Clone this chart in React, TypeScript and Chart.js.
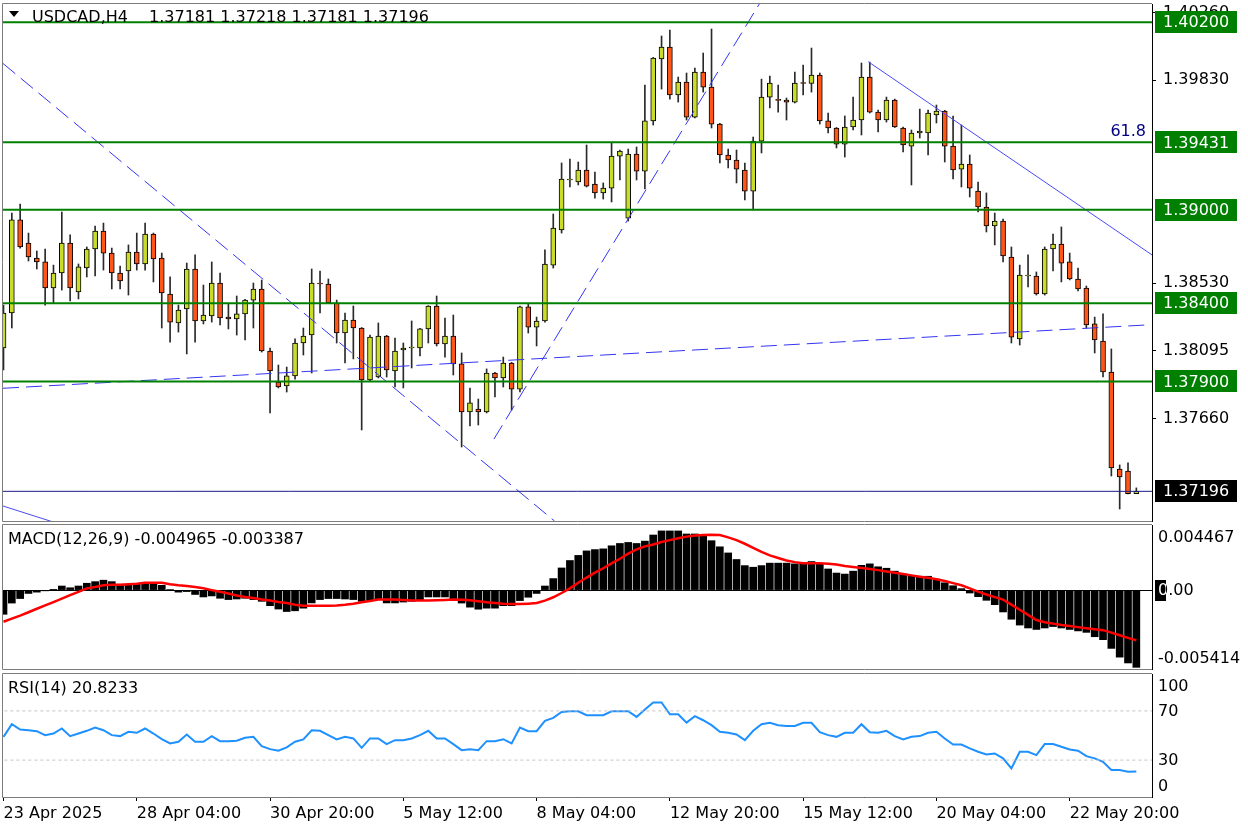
import React, { useEffect, useRef } from "react";
import { Chart, registerables } from "chart.js";

Chart.register(...registerables);

const FONT = "'DejaVu Sans', Verdana, sans-serif";

const symbolTitle = "USDCAD,H4";
const quoteTitle = "1.37181 1.37218 1.37181 1.37196";
const macdTitle = "MACD(12,26,9) -0.004965 -0.003387";
const rsiTitle = "RSI(14) 20.8233";

const opens = [
  1.38114, 1.38338, 1.38934, 1.38786, 1.38690, 1.38665, 1.38498, 1.38594, 1.38786, 1.38473,
  1.38626, 1.38748, 1.38863, 1.38722, 1.38594, 1.38607, 1.38729, 1.38652, 1.38844, 1.38690,
  1.38460, 1.38274, 1.38364, 1.38620, 1.38287, 1.38319, 1.38530, 1.38312, 1.38300, 1.38332,
  1.38421, 1.38492, 1.38095, 1.37896, 1.37871, 1.37935, 1.38146, 1.38197, 1.38530, 1.38524,
  1.38402, 1.38210, 1.38293, 1.38242, 1.37909, 1.37928, 1.38191, 1.37967, 1.38101, 1.38114,
  1.38114, 1.38236, 1.38383, 1.38140, 1.38191, 1.38012, 1.37704, 1.37723, 1.37704, 1.37954,
  1.37922, 1.38018, 1.37851, 1.38377, 1.38248, 1.38287, 1.38645, 1.38870, 1.39190, 1.39177,
  1.39254, 1.39164, 1.39107, 1.39138, 1.39343, 1.38946, 1.39356, 1.39247, 1.39568, 1.39965,
  1.40041, 1.39734, 1.39817, 1.39593, 1.39881, 1.39785, 1.39548, 1.39350, 1.39318, 1.39254,
  1.39119, 1.39439, 1.39721, 1.39705, 1.39702, 1.39689, 1.39811, 1.39808, 1.39862, 1.39568,
  1.39523, 1.39420, 1.39529, 1.39574, 1.39849, 1.39625, 1.39574, 1.39702, 1.39523, 1.39407,
  1.39491, 1.39491, 1.39606, 1.39632, 1.39407, 1.39260, 1.39292, 1.39119, 1.39017, 1.38895,
  1.38927, 1.38697, 1.38172, 1.38575, 1.38575, 1.38460, 1.38748, 1.38780, 1.38665, 1.38556,
  1.38498, 1.38268, 1.38159, 1.37960, 1.37339, 1.37326, 1.37181,
];
const highs = [
  1.38389, 1.38978, 1.39036, 1.38850, 1.38735, 1.38748, 1.38645, 1.38985, 1.38838, 1.38652,
  1.38761, 1.38895, 1.38914, 1.38754, 1.38639, 1.38774, 1.38850, 1.38914, 1.38850, 1.38722,
  1.38569, 1.38389, 1.38658, 1.38710, 1.38517, 1.38665, 1.38594, 1.38396, 1.38447, 1.38425,
  1.38530, 1.38549, 1.38114, 1.38005, 1.37992, 1.38172, 1.38242, 1.38620, 1.38607, 1.38556,
  1.38421, 1.38338, 1.38383, 1.38245, 1.38197, 1.38274, 1.38195, 1.38178, 1.38146, 1.38287,
  1.38240, 1.38385, 1.38447, 1.38306, 1.38325, 1.38082, 1.37858, 1.37787, 1.37980, 1.37958,
  1.38056, 1.38022, 1.38383, 1.38396, 1.38312, 1.38742, 1.38972, 1.39299, 1.39324, 1.39305,
  1.39414, 1.39241, 1.39171, 1.39427, 1.39382, 1.39388, 1.39401, 1.39798, 1.39975, 1.40112,
  1.40150, 1.39849, 1.39875, 1.39907, 1.40003, 1.40157, 1.39552, 1.39388, 1.39382, 1.39299,
  1.39465, 1.39836, 1.39856, 1.39798, 1.39715, 1.39881, 1.39926, 1.40035, 1.39875, 1.39619,
  1.39526, 1.39600, 1.39721, 1.39939, 1.39945, 1.39638, 1.39721, 1.39708, 1.39529, 1.39510,
  1.39644, 1.39638, 1.39670, 1.39636, 1.39600, 1.39542, 1.39350, 1.39177, 1.39107, 1.38978,
  1.38940, 1.38761, 1.38645, 1.38710, 1.38601, 1.38761, 1.38844, 1.38889, 1.38722, 1.38626,
  1.38511, 1.38312, 1.38332, 1.38108, 1.37365, 1.37378, 1.37218,
];
const lows = [
  1.37973, 1.38242, 1.38754, 1.38671, 1.38620, 1.38389, 1.38402, 1.38485, 1.38415, 1.38428,
  1.38569, 1.38575, 1.38613, 1.38492, 1.38492, 1.38453, 1.38613, 1.38613, 1.38537, 1.38242,
  1.38152, 1.38216, 1.38076, 1.38152, 1.38268, 1.38280, 1.38261, 1.38236, 1.38197, 1.38165,
  1.38242, 1.38088, 1.37698, 1.37858, 1.37832, 1.37915, 1.38069, 1.37954, 1.38338, 1.38400,
  1.38146, 1.38018, 1.38044, 1.37589, 1.37905, 1.37922, 1.37928, 1.37864, 1.37858, 1.37986,
  1.38063, 1.38146, 1.38127, 1.38056, 1.37941, 1.37480, 1.37615, 1.37621, 1.37698, 1.37800,
  1.37864, 1.37717, 1.37832, 1.38210, 1.38127, 1.38280, 1.38626, 1.38850, 1.39145, 1.39158,
  1.39145, 1.39074, 1.39068, 1.39049, 1.39190, 1.38927, 1.39190, 1.39132, 1.39542, 1.39772,
  1.39708, 1.39689, 1.39574, 1.39587, 1.39753, 1.39523, 1.39299, 1.39267, 1.39171, 1.39062,
  1.38998, 1.39363, 1.39651, 1.39625, 1.39574, 1.39683, 1.39734, 1.39753, 1.39548, 1.39491,
  1.39395, 1.39337, 1.39510, 1.39478, 1.39619, 1.39497, 1.39561, 1.39526, 1.39369, 1.39158,
  1.39459, 1.39350, 1.39555, 1.39305, 1.39196, 1.39145, 1.39081, 1.38985, 1.38857, 1.38774,
  1.38665, 1.38146, 1.38133, 1.38505, 1.38453, 1.38453, 1.38607, 1.38537, 1.38550, 1.38479,
  1.38242, 1.38082, 1.37928, 1.37294, 1.37083, 1.37179, 1.37181,
];
const closes = [
  1.38338, 1.38934, 1.38761, 1.38697, 1.38665, 1.38498, 1.38594, 1.38786, 1.38498, 1.38633,
  1.38748, 1.38863, 1.38722, 1.38594, 1.38543, 1.38729, 1.38652, 1.38844, 1.38684, 1.38466,
  1.38280, 1.38357, 1.38620, 1.38287, 1.38325, 1.38530, 1.38306, 1.38300, 1.38332, 1.38421,
  1.38492, 1.38095, 1.37967, 1.37864, 1.37935, 1.38146, 1.38191, 1.38530, 1.38524, 1.38405,
  1.38210, 1.38293, 1.38242, 1.37909, 1.38184, 1.38191, 1.37973, 1.38095, 1.38114, 1.38114,
  1.38236, 1.38383, 1.38140, 1.38191, 1.38012, 1.37704, 1.37762, 1.37704, 1.37954, 1.37922,
  1.38018, 1.37851, 1.38377, 1.38248, 1.38287, 1.38652, 1.38882, 1.39196, 1.39190, 1.39254,
  1.39151, 1.39107, 1.39138, 1.39343, 1.39375, 1.39356, 1.39247, 1.39568, 1.39971, 1.40041,
  1.39734, 1.39817, 1.39593, 1.39881, 1.39785, 1.39548, 1.39350, 1.39318, 1.39260, 1.39119,
  1.39439, 1.39721, 1.39811, 1.39700, 1.39689, 1.39811, 1.39808, 1.39862, 1.39568, 1.39523,
  1.39420, 1.39529, 1.39574, 1.39849, 1.39625, 1.39574, 1.39702, 1.39529, 1.39414, 1.39491,
  1.39503, 1.39619, 1.39632, 1.39407, 1.39254, 1.39292, 1.39138, 1.39017, 1.38895, 1.38927,
  1.38703, 1.38184, 1.38581, 1.38575, 1.38460, 1.38748, 1.38780, 1.38658, 1.38556, 1.38492,
  1.38261, 1.38165, 1.37960, 1.37346, 1.37288, 1.37181, 1.37196,
];

const macdMain = [
  -0.00166, -0.00089, -0.00058, -0.00023, -0.00014, -0.00005, 0.00005, 0.00028, 0.00016, 0.00028,
  0.00047, 0.00058, 0.00068, 0.00058, 0.0004, 0.00035, 0.0004, 0.00051, 0.0004, 0.00033,
  0.00002, -0.00014, -0.0001, -0.0003, -0.00047, -0.0004, -0.00056, -0.00065, -0.00061, -0.00056,
  -0.00065, -0.00077, -0.00107, -0.0013, -0.00147, -0.00142, -0.00124, -0.00088, -0.00065, -0.00058,
  -0.00058, -0.00061, -0.00065, -0.00077, -0.00072, -0.00065, -0.00088, -0.00088, -0.00082, -0.00077,
  -0.00065, -0.00047, -0.00047, -0.00047, -0.00065, -0.00089, -0.00117, -0.00131, -0.00124, -0.00124,
  -0.00107, -0.00107, -0.00072, -0.00049, -0.00023, 0.00028, 0.00079, 0.00152, 0.00203, 0.00238,
  0.00269, 0.00278, 0.00283, 0.00304, 0.0032, 0.00327, 0.0032, 0.00336, 0.00378, 0.00406,
  0.00406, 0.00406, 0.00385, 0.00385, 0.00371, 0.00339, 0.00297, 0.00255, 0.0021, 0.00168,
  0.00157, 0.00168, 0.00185, 0.00185, 0.00185, 0.0018, 0.0018, 0.00196, 0.0018, 0.00145,
  0.00117, 0.0011, 0.0013, 0.0017, 0.0018, 0.0016, 0.0015, 0.0013, 0.0011, 0.00095,
  0.0009, 0.00095, 0.00075, 0.0005, 0.0003, 0.0001, -0.0002, -0.00045, -0.0007, -0.001,
  -0.0015, -0.002, -0.0024, -0.0026, -0.0027, -0.0026, -0.0025, -0.0026, -0.0027, -0.0028,
  -0.0029, -0.0032, -0.0034, -0.004, -0.0046, -0.005, -0.0053,
];
const macdSignal = [
  -0.00217, -0.00196, -0.00175, -0.00152, -0.00128, -0.00105, -0.00082, -0.00058, -0.00035, -0.00012,
  0.00012, 0.00021, 0.00033, 0.00037, 0.00037, 0.0004, 0.00044, 0.00051, 0.00051, 0.00051,
  0.0004, 0.00033, 0.00028, 0.00021, 0.00012, 0, -0.00012, -0.00023, -0.00037, -0.00047,
  -0.00054, -0.00065, -0.00072, -0.00082, -0.00089, -0.001, -0.00107, -0.00107, -0.00107, -0.00107,
  -0.00105, -0.001, -0.00093, -0.00084, -0.00075, -0.00065, -0.00065, -0.00065, -0.00068, -0.00072,
  -0.00072, -0.00071, -0.0007, -0.00068, -0.00065, -0.00067, -0.0007, -0.00077, -0.00084, -0.00089,
  -0.00093, -0.00095, -0.00096, -0.00093, -0.00089, -0.00072, -0.00049, -0.0002, 0.00012, 0.0005,
  0.00086, 0.0012, 0.0015, 0.00183, 0.00215, 0.0025, 0.0028, 0.003, 0.00313, 0.0033,
  0.00343, 0.00356, 0.00367, 0.00374, 0.00378, 0.0038, 0.00378, 0.00362, 0.00343, 0.00318,
  0.0029, 0.00262, 0.00238, 0.0022, 0.00203, 0.00192, 0.00185, 0.00185, 0.00185, 0.0018,
  0.00175, 0.00165, 0.00159, 0.00152, 0.00145, 0.00137, 0.00128, 0.00119, 0.0011, 0.00101,
  0.00092, 0.00084, 0.00075, 0.00062, 0.00048, 0.00033, 0.00012, -0.0001, -0.0003, -0.00048,
  -0.00065, -0.001, -0.00135, -0.0017, -0.00205, -0.0022, -0.0023, -0.0024, -0.00247, -0.00254,
  -0.00261, -0.00268, -0.00275, -0.00292, -0.0031, -0.00328, -0.00345,
];
const rsiValues = [
  48.9, 59.2, 54.9, 54.3, 53.5, 50.3, 51.6, 55.7, 49.5, 51.6,
  53.8, 56.5, 54.3, 50.3, 49.5, 53.0, 52.2, 55.7, 51.6, 47.0,
  43.5, 44.9, 50.8, 44.9, 44.9, 49.5, 45.4, 45.4, 45.7, 48.1,
  48.9, 41.4, 38.9, 37.6, 40.3, 44.9, 46.8, 54.3, 53.8, 50.3,
  46.8, 48.9, 47.6, 40.0, 47.6, 47.6, 43.0, 46.2, 46.2, 47.6,
  50.3, 53.8, 47.6, 47.6, 43.0, 38.1, 38.9, 38.1, 45.4, 45.4,
  47.0, 43.5, 56.5, 53.5, 53.5, 61.9, 64.3, 69.2, 69.7, 69.7,
  66.5, 66.5, 66.5, 69.7, 69.7, 69.7, 65.1, 71.1, 76.8, 76.8,
  67.3, 67.3, 60.5, 65.7, 62.4, 58.4, 53.0, 52.2, 50.8, 46.2,
  53.8, 59.2, 60.3, 58.4, 57.8, 57.8, 60.3, 60.3, 52.7, 50.3,
  48.9, 52.2, 52.2, 59.2, 52.7, 52.2, 53.8, 49.5, 46.8, 48.9,
  49.5, 52.2, 53.0, 47.6, 42.7, 42.7, 39.5, 36.8, 34.6, 35.4,
  31.4, 23.2, 36.8, 36.8, 34.1, 43.0, 43.0, 40.8, 38.6, 37.6,
  33.2, 31.4, 28.6, 21.9, 21.9, 20.5, 20.8,
];

const timeLabels = [
  "23 Apr 2025", "28 Apr 04:00", "30 Apr 20:00", "5 May 12:00", "8 May 04:00",
  "12 May 20:00", "15 May 12:00", "20 May 04:00", "22 May 20:00",
];
const timeTickIndex = [0, 16, 32, 48, 64, 80, 96, 112, 128];

const priceTicks = [1.3766, 1.38095, 1.3853, 1.3983, 1.4026];
const levelPrices = [1.402, 1.39431, 1.39, 1.384, 1.379];
const lastPrice = 1.37196;
const fibLevel = 1.39431;
const fibLabel = "61.8";

const macdTicks = [-0.005414, 0, 0.004467];
const rsiTicks = [0, 30, 70, 100];
const rsiLevels = [30, 70];

// trend lines: [startIndex, startPrice, endIndex, endPrice]
const dashedLines = [
  [-0.06, 1.39936, 66.15, 1.37006],
  [58.88, 1.37531, 91.5, 1.40384],
  [-0.06, 1.37856, 137.04, 1.38261],
];
const solidLines = [
  [103.82, 1.39947, 137.88, 1.3871],
  [-0.06, 1.37102, 8, 1.36965],
];

const X_MIN = -0.06;
const X_MAX = 137.88;
const PRICE_MIN = 1.37006;
const PRICE_MAX = 1.40317;
const MACD_MIN = -0.005414;
const MACD_MAX = 0.004467;

const BULL = "#c9dc2a";
const BEAR = "#ff5516";
const FRAME = "#7c7c7c";
const W = 1248;

const idx = opens.map((_, i) => i);

function frame(ctx: CanvasRenderingContext2D, a: any) {
  ctx.strokeStyle = FRAME;
  ctx.lineWidth = 1;
  ctx.beginPath();
  ctx.moveTo(a.left - 0.5, a.bottom + 0.5);
  ctx.lineTo(a.left - 0.5, a.top - 0.5);
  ctx.lineTo(a.right, a.top - 0.5);
  ctx.moveTo(a.left - 0.5, a.bottom + 0.5);
  ctx.lineTo(a.right, a.bottom + 0.5);
  ctx.stroke();
}

const mainOverlay = {
  id: "mainOverlay",
  afterDraw(chart: any) {
    const { ctx, chartArea: a, scales } = chart;
    const ys = scales.y;
    ctx.save();
    frame(ctx, a);
    ctx.font = `16px ${FONT}`;
    ctx.fillStyle = "#000";
    ctx.textAlign = "left";
    ctx.textBaseline = "alphabetic";
    ctx.beginPath();
    ctx.moveTo(9, 11);
    ctx.lineTo(19, 11);
    ctx.lineTo(14, 17);
    ctx.closePath();
    ctx.fill();
    ctx.fillText(symbolTitle, 32, 22);
    ctx.fillText(quoteTitle, 149, 22);
    ctx.fillStyle = "#000080";
    ctx.textAlign = "right";
    ctx.fillText(fibLabel, 1146, ys.getPixelForValue(fibLevel) - 6);
    ctx.textAlign = "left";
    ctx.textBaseline = "middle";
    const boxes = levelPrices.map((p) => [p, "#008000"]).concat([[lastPrice, "#000000"]]);
    boxes.forEach(([p, col]: any) => {
      const y = ys.getPixelForValue(p);
      ctx.fillStyle = col;
      ctx.fillRect(1155, Math.round(y) - 11, 82, 22);
      ctx.fillStyle = "#ffffff";
      ctx.fillText(p.toFixed(5), 1163, y + 1);
    });
    ctx.restore();
  },
};

function panelOverlay(title: string, values: number[], fmt: (v: number) => string, zeroMarker: boolean) {
  return {
    id: "panelOverlay",
    afterDraw(chart: any) {
      const { ctx, chartArea: a, scales } = chart;
      const ys = scales.y;
      ctx.save();
      frame(ctx, a);
      ctx.font = `16px ${FONT}`;
      ctx.fillStyle = "#000";
      ctx.textAlign = "left";
      ctx.textBaseline = "middle";
      ctx.fillText(title, 8, a.top + 15);
      values.forEach((v) => {
        let y = ys.getPixelForValue(v);
        y = Math.max(a.top + 12, Math.min(a.bottom - 11, y));
        const txt = fmt(v);
        if (zeroMarker && v === 0) {
          ctx.fillStyle = "#000";
          ctx.fillRect(1155, Math.round(y) - 10, 11, 21);
          ctx.fillText(txt, 1158, y + 1);
          ctx.save();
          ctx.beginPath();
          ctx.rect(1155, Math.round(y) - 10, 11, 21);
          ctx.clip();
          ctx.fillStyle = "#fff";
          ctx.fillText(txt, 1158, y + 1);
          ctx.restore();
        } else {
          ctx.fillStyle = "#000";
          ctx.fillText(txt, 1158, y + 1);
        }
      });
      ctx.restore();
    },
  };
}

function hLine(v: number, color: string, width: number, dash: number[] = []) {
  return {
    type: "line",
    data: [
      { x: X_MIN - 2, y: v },
      { x: X_MAX + 2, y: v },
    ],
    borderColor: color,
    borderWidth: width,
    borderDash: dash,
    pointRadius: 0,
    fill: false,
    tension: 0,
    order: 0,
  };
}

function segLine(s: number[], color: string, dash: number[]) {
  return {
    type: "line",
    data: [
      { x: s[0], y: s[1] },
      { x: s[2], y: s[3] },
    ],
    borderColor: color,
    borderWidth: 1,
    borderDash: dash,
    pointRadius: 0,
    fill: false,
    tension: 0,
    order: 0,
  };
}

const baseX = {
  type: "linear",
  min: X_MIN,
  max: X_MAX,
  display: false,
  offset: false,
};

function fixRightAxis(s: any) {
  s.width = W - 1152;
  s.paddingTop = 0;
  s.paddingBottom = 0;
  s.paddingLeft = 0;
  s.paddingRight = 0;
}

export default function App() {
  const mainRef = useRef<HTMLCanvasElement>(null);
  const macdRef = useRef<HTMLCanvasElement>(null);
  const rsiRef = useRef<HTMLCanvasElement>(null);

  useEffect(() => {
    Chart.defaults.font.family = FONT;
    Chart.defaults.font.size = 16;
    Chart.defaults.color = "#000";

    const main = new Chart(mainRef.current as HTMLCanvasElement, {
      type: "bar",
      data: {
        datasets: [
          ...levelPrices.map((p) => hLine(p, "#008000", 2)),
          hLine(lastPrice, "#1c1c8c", 1),
          ...dashedLines.map((s) => segLine(s, "#3434f4", [16, 7])),
          ...solidLines.map((s) => segLine(s, "#4a4af8", [])),
          {
            type: "bar",
            data: idx.map((i) => ({ x: i, y: [opens[i], closes[i]] })),
            backgroundColor: idx.map((i) => (closes[i] >= opens[i] ? BULL : BEAR)),
            borderColor: "#000",
            borderWidth: 1,
            borderSkipped: false,
            barThickness: 5,
            minBarLength: 1,
            grouped: false,
            order: 1,
          },
          {
            type: "bar",
            data: idx.map((i) => ({ x: i, y: [lows[i], highs[i]] })),
            backgroundColor: "#2a2a2a",
            borderWidth: 0,
            barThickness: 1,
            grouped: false,
            order: 2,
          },
        ] as any,
      },
      options: {
        animation: false,
        responsive: false,
        devicePixelRatio: 1,
        layout: { padding: { left: 3, top: 4, bottom: 3, right: 0 } },
        plugins: { legend: { display: false }, tooltip: { enabled: false } },
        scales: {
          x: baseX as any,
          y: {
            type: "linear",
            position: "right",
            min: PRICE_MIN,
            max: PRICE_MAX,
            afterBuildTicks: (s: any) => {
              s.ticks = priceTicks.map((v) => ({ value: v }));
            },
            afterFit: fixRightAxis,
            grid: { drawOnChartArea: false, drawTicks: true, tickLength: 4, color: "#000" },
            border: { display: true, color: "#000" },
            ticks: {
              color: "#000",
              font: { family: FONT, size: 16 },
              padding: 7,
              callback: (v: any) => Number(v).toFixed(5),
            },
          },
        },
      } as any,
      plugins: [mainOverlay],
    });

    const macd = new Chart(macdRef.current as HTMLCanvasElement, {
      type: "bar",
      data: {
        datasets: [
          {
            type: "line",
            data: idx.map((i) => ({ x: i, y: macdSignal[i] })),
            borderColor: "#ff0000",
            borderWidth: 2.5,
            pointRadius: 0,
            tension: 0,
            fill: false,
            order: 0,
          },
          {
            type: "bar",
            data: idx.map((i) => ({ x: i, y: macdMain[i] })),
            backgroundColor: "#000",
            barThickness: 7,
            grouped: false,
            order: 1,
          },
        ] as any,
      },
      options: {
        animation: false,
        responsive: false,
        devicePixelRatio: 1,
        layout: { padding: { left: 3, top: 3, bottom: 3, right: 0 } },
        plugins: { legend: { display: false }, tooltip: { enabled: false } },
        scales: {
          x: baseX as any,
          y: {
            type: "linear",
            position: "right",
            min: MACD_MIN,
            max: MACD_MAX,
            afterBuildTicks: (s: any) => {
              s.ticks = macdTicks.map((v) => ({ value: v }));
            },
            afterFit: fixRightAxis,
            ticks: { display: false },
            grid: {
              drawTicks: false,
              drawOnChartArea: true,
              color: (c: any) => (c.tick && c.tick.value === 0 ? "#000" : "rgba(0,0,0,0)"),
            },
            border: { display: true, color: "#000" },
          },
        },
      } as any,
      plugins: [panelOverlay(macdTitle, macdTicks, (v) => (v === 0 ? "0.00" : v.toFixed(6)), true)],
    });

    const rsi = new Chart(rsiRef.current as HTMLCanvasElement, {
      type: "line",
      data: {
        datasets: [
          ...rsiLevels.map((l) => hLine(l, "#c4c4c4", 1, [3, 3])),
          {
            type: "line",
            data: idx.map((i) => ({ x: i, y: rsiValues[i] })),
            borderColor: "#1e90ff",
            borderWidth: 2,
            pointRadius: 0,
            tension: 0,
            fill: false,
            order: 0,
          },
        ] as any,
      },
      options: {
        animation: false,
        responsive: false,
        devicePixelRatio: 1,
        layout: { padding: { left: 3, top: 2, bottom: 0, right: 0 } },
        plugins: { legend: { display: false }, tooltip: { enabled: false } },
        scales: {
          x: {
            type: "linear",
            min: X_MIN,
            max: X_MAX,
            offset: false,
            afterBuildTicks: (s: any) => {
              s.ticks = timeTickIndex.map((v) => ({ value: v }));
            },
            afterFit: (s: any) => {
              s.height = 35;
              s.paddingLeft = 0;
              s.paddingRight = 0;
            },
            grid: { drawOnChartArea: false, drawTicks: true, tickLength: 4, color: "#000" },
            border: { display: true, color: "#000" },
            ticks: {
              autoSkip: false,
              maxRotation: 0,
              minRotation: 0,
              align: "start",
              padding: 3,
              color: "#000",
              font: { family: FONT, size: 16 },
              callback: (_v: any, i: number) => timeLabels[i],
            },
          },
          y: {
            type: "linear",
            position: "right",
            min: 0,
            max: 100,
            afterBuildTicks: (s: any) => {
              s.ticks = rsiTicks.map((v) => ({ value: v }));
            },
            afterFit: fixRightAxis,
            ticks: { display: false },
            grid: { display: false },
            border: { display: true, color: "#000" },
          },
        },
      } as any,
      plugins: [panelOverlay(rsiTitle, rsiTicks.slice().reverse(), (v) => String(v), false)],
    });

    return () => {
      main.destroy();
      macd.destroy();
      rsi.destroy();
    };
  }, []);

  const cs = (top: number, h: number): React.CSSProperties => ({
    position: "absolute",
    left: 0,
    top,
    width: W,
    height: h,
    display: "block",
  });

  return (
    <div style={{ position: "absolute", left: 0, top: 0, width: W, height: 832, background: "#fff", overflow: "hidden" }}>
      <canvas ref={mainRef} width={W} height={524} style={cs(0, 524)} />
      <canvas ref={macdRef} width={W} height={150} style={cs(522, 150)} />
      <canvas ref={rsiRef} width={W} height={160} style={cs(672, 160)} />
    </div>
  );
}
